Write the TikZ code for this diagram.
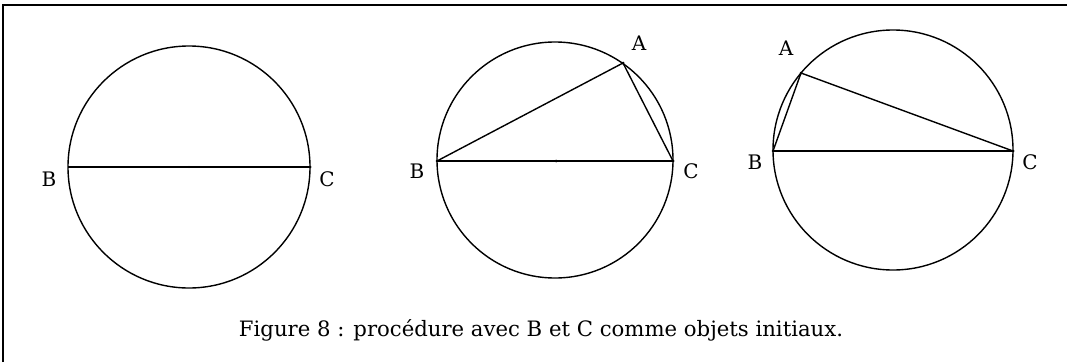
\documentclass[tikz,border=0pt]{standalone}
\usepackage{fontspec}
\setmainfont{DejaVu Serif}
\begin{document}
\begin{tikzpicture}[x=1pt,y=-1pt,
  geo/.style={line width=1.4pt,black},
  framestyle/.style={line width=1.5pt,black},
  pt/.style={circle,fill=black,inner sep=0pt,minimum size=3pt},
  lbl/.style={font=\fontsize{20}{22}\selectfont,inner sep=0pt},
  captext/.style={font=\fontsize{21.2}{24}\selectfont,inner sep=0pt}]
\useasboundingbox (0,0) rectangle (1067,362);
% frame (top and left edges)
\coordinate (f0) at (3,362);
\coordinate (f1) at (3,5);
\coordinate (f2) at (1067,5);
\draw[framestyle] (f0) -- (f1) -- (f2);

% ---------- figure 1 ----------
\coordinate (O1) at (189,167);
\draw[geo] (O1) circle[radius=121];
\node[pt,minimum size=2.4pt] (o1) at (O1) {};
\coordinate (B1) at (68,167);
\coordinate (C1) at (310,167);
\draw[geo] (B1) -- (C1);
\node[pt] (c1) at (C1) {};
\node[lbl] (lB1) at (49,179) {B};
\node[lbl] (lC1) at (327,179) {C};

% ---------- figure 2 ----------
\coordinate (O2) at (555,160);
\draw[geo] (O2) circle[radius=118];
\node[pt] (o2) at (556,161) {};
\coordinate (B2) at (437,161);
\coordinate (C2) at (673,161);
\coordinate (A2) at (623,63);
\draw[geo] (B2) -- (C2);
\draw[geo] (B2) -- (A2) -- (C2);
\node[pt] (a2) at (A2) {};
\node[pt] (b2) at (B2) {};
\node[pt] (c2) at (C2) {};
\node[lbl] (lA2) at (639,43) {A};
\node[lbl] (lB2) at (417,171) {B};
\node[lbl] (lC2) at (691,171) {C};

% ---------- figure 3 ----------
\coordinate (O3) at (893,150);
\draw[geo] (O3) circle[radius=120];
\coordinate (B3) at (773,151);
\coordinate (C3) at (1013,151);
\coordinate (A3) at (801,73);
\draw[geo] (B3) -- (C3);
\draw[geo] (B3) -- (A3) -- (C3);
\node[pt] (a3) at (A3) {};
\node[pt] (b3) at (B3) {};
\node[pt] (c3) at (C3) {};
\node[lbl] (lA3) at (786,48) {A};
\node[lbl] (lB3) at (755,162) {B};
\node[lbl] (lC3) at (1030,162) {C};

% ---------- caption ----------
\node[captext,anchor=base] (caption) at (541,336) {Figure 8 : procédure avec B et C comme objets initiaux.};
\end{tikzpicture}
\end{document}
